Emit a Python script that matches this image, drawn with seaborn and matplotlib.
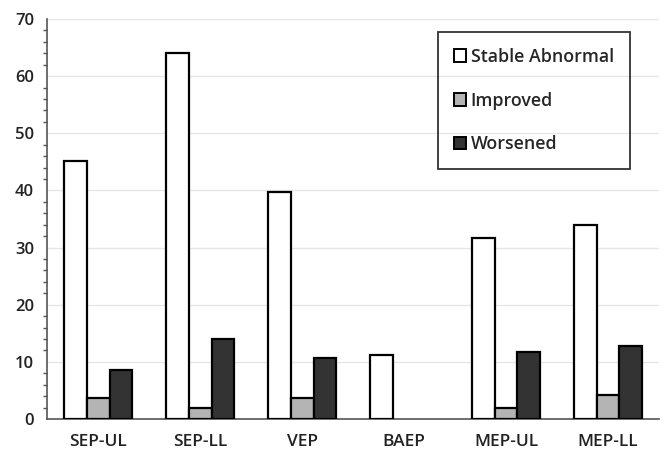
import numpy as np
import pandas as pd
import matplotlib.pyplot as plt
import seaborn as sns
from matplotlib.patches import Patch
from matplotlib.ticker import MultipleLocator, FixedLocator, NullFormatter

# -----------------------------
# Data
# -----------------------------
categories = ["SEP-UL", "SEP-LL", "VEP", "BAEP", "MEP-UL", "MEP-LL"]
series_names = ["Stable Abnormal", "Improved", "Worsened"]

stable_abnormal = [45.2, 64.0, 39.8, 11.2, 31.6, 34.0]
improved = [3.6, 2.0, 3.6, 0.0, 2.0, 4.2]
worsened = [8.6, 14.0, 10.6, 0.0, 11.8, 12.8]

colors = ["#ffffff", "#b4b4b4", "#333333"]


def build_frame():
    rows = []
    for name, values in zip(series_names, [stable_abnormal, improved, worsened]):
        for cat, v in zip(categories, values):
            rows.append({"category": cat, "series": name, "value": v})
    return pd.DataFrame(rows)


sns.set_style("white")
plt.rcParams["font.family"] = ["Open Sans", "DejaVu Sans"]

df = build_frame()

fig = plt.figure(figsize=(6.65, 4.53), dpi=100)
ax = fig.add_axes([0.071, 0.075, 0.92, 0.883])

sns.barplot(
    data=df, x="category", y="value", hue="series",
    order=categories, hue_order=series_names,
    palette=colors, width=0.67, gap=0,
    edgecolor="black", linewidth=1.6, ax=ax, zorder=3, legend=False,
)

# zero-height bars should not show an outline
for patch in ax.patches:
    if patch.get_height() == 0:
        patch.set_visible(False)

ax.set_xlim(-0.5, 5.5)
ax.set_ylim(0, 70)
ax.yaxis.set_major_locator(MultipleLocator(10))
ax.yaxis.set_minor_locator(MultipleLocator(2))
ax.yaxis.grid(True, color="#e6e6e6", linewidth=1, zorder=0)
ax.set_axisbelow(True)

# ticks on the x axis sit between the groups
ax.xaxis.set_minor_locator(FixedLocator(np.arange(-0.5, 6, 1.0)))
ax.xaxis.set_minor_formatter(NullFormatter())
ax.tick_params(axis="x", which="major", length=0, pad=11, labelsize=12.5)
ax.tick_params(axis="x", which="minor", length=5, width=1.2, color="#555555", direction="out")
ax.tick_params(axis="y", which="major", length=6, width=1.2, color="#555555", direction="out", labelsize=12)
ax.tick_params(axis="y", which="minor", length=3, width=1, color="#555555", direction="out", left=True)
ax.tick_params(axis="both", labelcolor="#222222")
for lbl in ax.get_xticklabels() + ax.get_yticklabels():
    lbl.set_fontweight("semibold")

ax.set_xlabel("")
ax.set_ylabel("")
sns.despine(ax=ax)
for side in ["left", "bottom"]:
    ax.spines[side].set_color("#555555")
    ax.spines[side].set_linewidth(1.2)

handles = [Patch(facecolor=c, edgecolor="black", linewidth=1.4, label=n)
           for c, n in zip(colors, series_names)]
leg = ax.legend(
    handles=handles, loc="upper right", bbox_to_anchor=(0.952, 0.968), frameon=True,
    fontsize=12.8, handlelength=0.7, handleheight=0.7, handletextpad=0.25,
    labelspacing=1.45, borderpad=0.9, borderaxespad=0.0, fancybox=False,
)
leg.get_frame().set_edgecolor("black")
leg.get_frame().set_linewidth(1.3)
leg.get_frame().set_facecolor("none")
for t in leg.get_texts():
    t.set_fontweight("semibold")

fig.savefig("out.png", dpi=100)
